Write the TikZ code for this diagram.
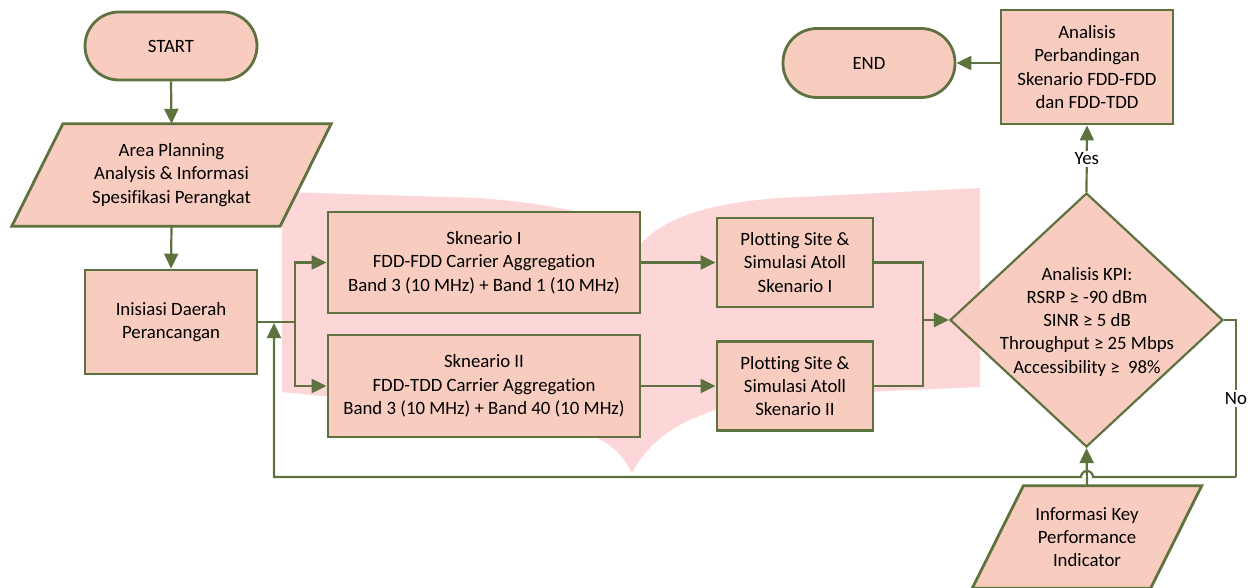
\documentclass[tikz,border=0pt]{standalone}
\usepackage{fontspec}
\setmainfont{Carlito}[Ligatures=NoCommon]
\usetikzlibrary{shapes.geometric,arrows.meta,calc,backgrounds}
\definecolor{lineg}{RGB}{94,114,64}
\definecolor{boxf}{RGB}{248,205,192}
\definecolor{wm}{RGB}{253,214,216}
\begin{document}
\begin{tikzpicture}[x=1pt,y=-1pt,
  font=\fontsize{18.8}{23.3}\selectfont,
  box/.style={draw=lineg, fill=boxf, line width=2.8pt, align=center, inner sep=0pt},
  term/.style={box, rounded corners=34pt, minimum width=172pt, minimum height=68pt},
  paratext/.style={align=center, inner sep=0pt},
  parashape/.style={draw=lineg, fill=boxf, line width=2.8pt},
  arr/.style={draw=lineg, line width=2.2pt, -{Triangle[length=15pt,width=14pt]}},
  ln/.style={draw=lineg, line width=2.2pt},
  lbl/.style={fill=white, inner sep=2pt},
]
\useasboundingbox (0,0) rectangle (1251,588);
% watermark
\begin{scope}[on background layer]
\fill[wm] (282,192) -- (480,198) .. controls (560,205) and (615,215) .. (640,245)
  .. controls (665,215) and (720,200) .. (800,197) -- (980,188) -- (980,387)
  -- (840,393) .. controls (720,398) and (660,420) .. (632,473)
  .. controls (615,440) and (590,425) .. (480,412) -- (282,392) -- cycle;
\end{scope}

\node[term] (start) at (171,46) {START};
\node[paratext, minimum width=268pt, minimum height=102pt] (area) at (171.5,175)
  {Area Planning\\Analysis \& Informasi\\Spesifikasi Perangkat};
\node[box, minimum width=172pt, minimum height=104pt] (ini) at (171,322)
  {Inisiasi Daerah\\Perancangan};
\node[box, minimum width=312pt, minimum height=101pt] (sk1) at (484,262.5)
  {Skneario I\\FDD-FDD Carrier Aggregation\\Band 3 (10 MHz) + Band 1 (10 MHz)};
\node[box, minimum width=312pt, minimum height=102pt] (sk2) at (484,386)
  {Skneario II\\FDD-TDD Carrier Aggregation\\Band 3 (10 MHz) + Band 40 (10 MHz)};
\node[box, minimum width=156pt, minimum height=89pt] (p1) at (795,262.5)
  {Plotting Site \&\\Simulasi Atoll\\Skenario I};
\node[box, minimum width=156pt, minimum height=89pt] (p2) at (795,386)
  {Plotting Site \&\\Simulasi Atoll\\Skenario II};
\node[diamond, draw=lineg, fill=boxf, line width=2.2pt, minimum width=273pt,
  minimum height=254pt, inner sep=0pt] (kpi) at (1086.5,320) {};
\node[paratext] (kpitext) at (1087,321.6)
  {Analisis KPI:\\RSRP ≥ -90 dBm\\SINR ≥ 5 dB\\Throughput ≥ 25 Mbps\\Accessibility ≥ \ 98\%};
\node[box, minimum width=172pt, minimum height=114pt] (ana) at (1087,67)
  {Analisis\\Perbandingan\\Skenario FDD-FDD\\dan FDD-TDD};
\node[term, minimum height=69pt] (endn) at (869,63) {END};
\node[paratext, minimum width=178pt, minimum height=102pt] (info) at (1087,537)
  {Informasi Key\\Performance\\Indicator};

\begin{scope}[on background layer]
\draw[parashape] ($(area.north west)+(25.5,0)$) -- ($(area.north east)+(25.5,0)$)
  -- ($(area.south east)+(-25.5,0)$) -- ($(area.south west)+(-25.5,0)$) -- cycle;
\draw[parashape] ($(info.north west)+(25.5,0)$) -- ($(info.north east)+(25.5,0)$)
  -- ($(info.south east)+(-25.5,0)$) -- ($(info.south west)+(-25.5,0)$) -- cycle;
\end{scope}

% connectors
\draw[arr] (start.south) -- (area.north);
\draw[arr] (area.south) -- (ini.north);
\coordinate (split) at (295,322);
\draw[ln] (ini.east) -- (split);
\draw[arr] (split) |- (sk1.west);
\draw[arr] (split) |- (sk2.west);
\draw[arr] (sk1.east) -- (p1.west);
\draw[arr] (sk2.east) -- (p2.west);
\coordinate (merge) at (923,320);
\draw[ln] (p1.east) -| (merge);
\draw[ln] (p2.east) -| (merge);
\draw[arr] (merge) -- (kpi.west);
\draw[arr] (kpi.north) -- node[lbl] {Yes} (ana.south);
\draw[arr] (ana.west |- endn.east) -- (endn.east);
\draw[arr] (info.north) -- (kpi.south);
\coordinate (noC) at (1236,477);
\coordinate (backC) at (274,477);
\coordinate (backT) at (274,323);
\draw[ln] (kpi.east) -| node[pos=0.75, lbl] {No} (noC);
\draw[arr] (noC) -- ($(info.north |- noC)+(6,0)$) arc[start angle=0, end angle=180, radius=6pt]
  -- (backC) -- (backT);
\end{tikzpicture}
\end{document}
